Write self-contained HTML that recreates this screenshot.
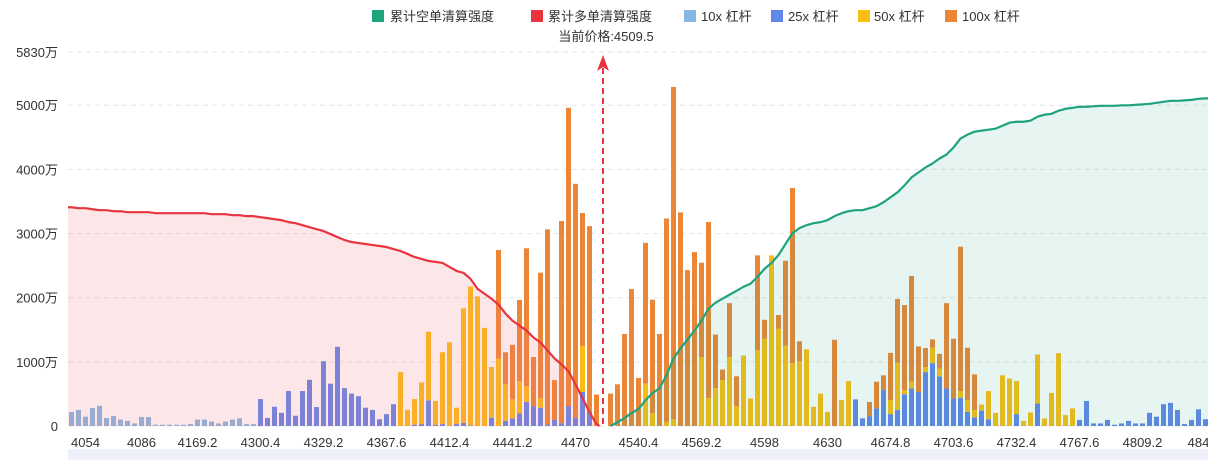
<!DOCTYPE html>
<html><head><meta charset="utf-8">
<style>
html,body{margin:0;padding:0;background:#fff;}
svg{display:block;font-family:"Liberation Sans","Noto Sans CJK SC",sans-serif;}
</style></head>
<body>
<svg id="chart" width="1208" height="460" viewBox="0 0 1208 460" xmlns="http://www.w3.org/2000/svg">
  <rect x="68" y="449" width="1140" height="11" fill="#eef1fb"/>
  <g id="grid"></g>
  <g id="bars"></g>
  <g id="areas"></g>
  <g id="lines"></g>
  <g id="yaxis"></g>
  <g id="xaxis"></g>
  <g>
    <line x1="603" y1="68" x2="603" y2="426" stroke="#e8343f" stroke-width="2" stroke-dasharray="6,4"/>
    <path d="M603 55 L597 71 L603 67 L609 71 Z" fill="#e8343f"/>
    <text x="606" y="41" font-size="13" fill="#333" text-anchor="middle">当前价格:4509.5</text>
  </g>
  <g font-size="13" fill="#333">
    <g><rect x="372" y="10" width="12" height="12" fill="#1fa37f"/><text x="390" y="21">累计空单清算强度</text></g>
    <g><rect x="531" y="10" width="12" height="12" fill="#e8343f"/><text x="548" y="21">累计多单清算强度</text></g>
    <g><rect x="684" y="10" width="12" height="12" fill="#85b7e2"/><text x="701" y="21">10x 杠杆</text></g>
    <g><rect x="771" y="10" width="12" height="12" fill="#6286ea"/><text x="788" y="21">25x 杠杆</text></g>
    <g><rect x="858" y="10" width="12" height="12" fill="#fbbd14"/><text x="874" y="21">50x 杠杆</text></g>
    <g><rect x="945" y="10" width="12" height="12" fill="#ec8636"/><text x="962" y="21">100x 杠杆</text></g>
  </g>
</svg>
<script>
const b10 = [220,250,145,280,315,125,155,100,80,40,140,140,20,20,20,20,20,30,100,100,70,40,70,100,120,30,30];
const b25 = [0,0,0,0,0,0,0,0,0,0, 0,0,0,0,0,0,0,0,0,0, 0,0,0,0,0,0,0,420,125,300,
 205,545,160,545,720,295,1010,660,1235,590, 505,465,285,250,105,185,340,0,0,20,
 30,400,20,30,0,30,50,10,0,0, 130,0,80,120,195,375,310,285,25,95,
 45,310,125,530,220,0,0,0,0,0, 0,0,0,0,0,0,0,0,0,0, 0,0,0,0,0,0,0,0,0,0,
 0,0,0,0,0,0,0,0,0,0, 0,0,415,120,155,275,560,185,250,495,
 585,530,840,980,775,585,430,440,220,135, 240,105,0,0,0,185,0,0,350,0,
 0,0,0,0,95,390,40,40,95,20, 40,80,40,40,205,145,340,360,250,30, 95,260,105];
const b50 = [0,0,0,0,0,0,0,0,0,0, 0,0,0,0,0,0,0,0,0,0, 0,0,0,0,0,0,0,0,0,0, 0,0,0,0,0,0,0,0,0,0,
 0,0,0,0,0,0,0,840,250,400, 650,1070,370,1120,1305,255,1785,2165,2020,1530,
 790,1050,570,295,505,245,0,145,0,0, 0,0,0,715,0,0,0,0,0,0,
 0,0,660,200,0,65,105,0,0,0, 1075,435,590,715,1075,310,1100,430,1180,1360,
 2660,1515,1255,980,1010,1195,300,505,220,0, 405,700,0,0,0,0,0,220,735,65,
 105,0,80,240,120,0,0,105,185,115, 95,440,205,790,740,515,80,210,765,120,
 515,1135,170,275,0,0,0,0,0,0, 0,0,0,0,0,0,0,0,0,0, 0,0,0];
const b100 = [0,0,0,0,0,0,0,0,0,0, 0,0,0,0,0,0,0,0,0,0, 0,0,0,0,0,0,0,0,0,0, 0,0,0,0,0,0,0,0,0,0,
 0,0,0,0,0,0,0,0,0,0, 0,0,0,0,0,0,0,0,0,0,
 0,1695,500,850,1265,2150,765,1960,3040,620, 3150,4650,3650,2075,2895,490,0,505,650,1435,
 2135,750,2195,1770,1435,3170,5180,3330,2430,2710, 1470,2745,835,165,840,465,0,0,1480,295,
 0,215,1320,2730,310,0,0,0,0,1345, 0,0,0,0,220,415,230,735,995,1325,
 1650,710,295,130,230,1330,930,2250,815,555, 0,0,0,0,0,0,0,0,0,0,
 0,0,0,0,0,0,0,0,0,0, 0,0,0,0,0,0,0,0,0,0, 0,0,0];
const longCum = [3410,3395,3395,3379,3364,3364,3348,3348,3333,3333,
 3333,3333,3317,3317,3317,3317,3317,3317,3317,3317,
 3302,3302,3302,3286,3286,3271,3271,
 3255,3240,3224,3209,3178,3162,3131,3100,3069,
 3038,2992,2945,2899,2868,2852,2837,2821,2806,2790,2759,
 2728,2682,2635,2604,2573,2558, 2542,2480,2418,2387,2294,2139,
 2062,1984,1891,1752,1643,1566, 1488,1380,1302,1178,1054,961, 853,651,434,217,31];
const shortStart = 77;
const shortCum = [0,62,124,202,264,403,512,589,791,1054,1209,1349,1488,1643,1829,1922,1984,2046,2108,2170,
 2217,2325,2449,2542,2666,2837,3007,3085,3131,3162,3178,3209,3271,3317,3348,3364,3364,3395,3426,3488,
 3565,3643,3751,3875,3953,4030,4092,4170,4232,4340,4480,4542,4588,4604,4619,4635,4681,4728,4743,4743,
 4759,4821,4852,4867,4914,4945,4960,4976,4976,4983,4991,4991,4991,4999,4999,5007,5014,5022,5038,5053,
 5069,5069,5076,5084,5100,5107];
const yTicks = [0,1000,2000,3000,4000,5000,5830];
const yTickLabels = ["0","1000万","2000万","3000万","4000万","5000万","5830万"];
const xLabelIdx = [2,10,18,27,36,45,54,63,72,81,90,99,108,117,126,135,144,153,161];
const xLabels = ["4054","4086","4169.2","4300.4","4329.2","4367.6","4412.4","4441.2","4470","4540.4","4569.2","4598","4630","4674.8","4703.6","4732.4","4767.6","4809.2","484"];

const NS="http://www.w3.org/2000/svg";
const N=163, X0=68, SLOT=7, BW=5, Y0=426, YTOP=52, YMAX=5830;
const xc=i=>X0+SLOT*i+SLOT/2;
const yv=v=>Y0-v*(Y0-YTOP)/YMAX;
function mk(tag,attrs,parent){const e=document.createElementNS(NS,tag);for(const k in attrs)e.setAttribute(k,attrs[k]);parent.appendChild(e);return e;}
const G=id=>document.getElementById(id);

yTicks.forEach((t,k)=>{
  const l=mk('line',{x1:X0,x2:1208,y1:yv(t),y2:yv(t),stroke:'#e6e6e6','stroke-dasharray':'5,4'},G('grid'));
  
  
  const tx=mk('text',{x:58,y:yv(t)+5,'font-size':13,fill:'#333','text-anchor':'end'},G('yaxis'));
  tx.textContent=yTickLabels[k];
  
  
});
const series=[[b10,'#85b7e2'],[b25,'#6286ea'],[b50,'#fbbd14'],[b100,'#ec8636']];
for(let i=0;i<N;i++){
  let acc=0;
  series.forEach(([arr,col])=>{
    const v=arr[i]||0; if(v<=0)return;
    const r=mk('rect',{x:xc(i)-BW/2,y:yv(acc+v),width:BW,height:yv(acc)-yv(acc+v),fill:col},G('bars'));
    
    
    acc+=v;
  });
}
let rp=`M${X0},${Y0} L${X0},${yv(longCum[0])}`;
longCum.forEach((v,i)=>{rp+=` L${xc(i)},${yv(v)}`;});
rp+=` L${xc(longCum.length-1)+3},${Y0} Z`;
const ra=mk('path',{d:rp,fill:'#f4737f','fill-opacity':0.18},G('areas'));


let gp=`M${xc(shortStart)},${Y0}`;
shortCum.forEach((v,k)=>{gp+=` L${xc(shortStart+k)},${yv(v)}`;});
gp+=` L1208,${yv(shortCum[shortCum.length-1])} L1208,${Y0} Z`;
const ga=mk('path',{d:gp,fill:'#1fa37f','fill-opacity':0.11},G('areas'));


let rl=`M${X0},${yv(longCum[0])}`;
longCum.forEach((v,i)=>{rl+=` L${xc(i)},${yv(v)}`;});
rl+=` L${xc(longCum.length-1)+3},${Y0}`;
const rline=mk('path',{d:rl,fill:'none',stroke:'#e8343f','stroke-width':2.2,'stroke-linejoin':'round'},G('lines'));


let gl='';
shortCum.forEach((v,k)=>{gl+=(k?' L':'M')+`${xc(shortStart+k)},${yv(v)}`;});
gl+=` L1208,${yv(shortCum[shortCum.length-1])}`;
const gline=mk('path',{d:gl,fill:'none',stroke:'#1fa37f','stroke-width':2.2,'stroke-linejoin':'round'},G('lines'));


xLabelIdx.forEach((idx,k)=>{
  const t=mk('text',{x:xc(idx),y:447,'font-size':13,fill:'#333','text-anchor':'middle'},G('xaxis'));
  t.textContent=xLabels[k];
  
  
});
</script>
</body></html>
